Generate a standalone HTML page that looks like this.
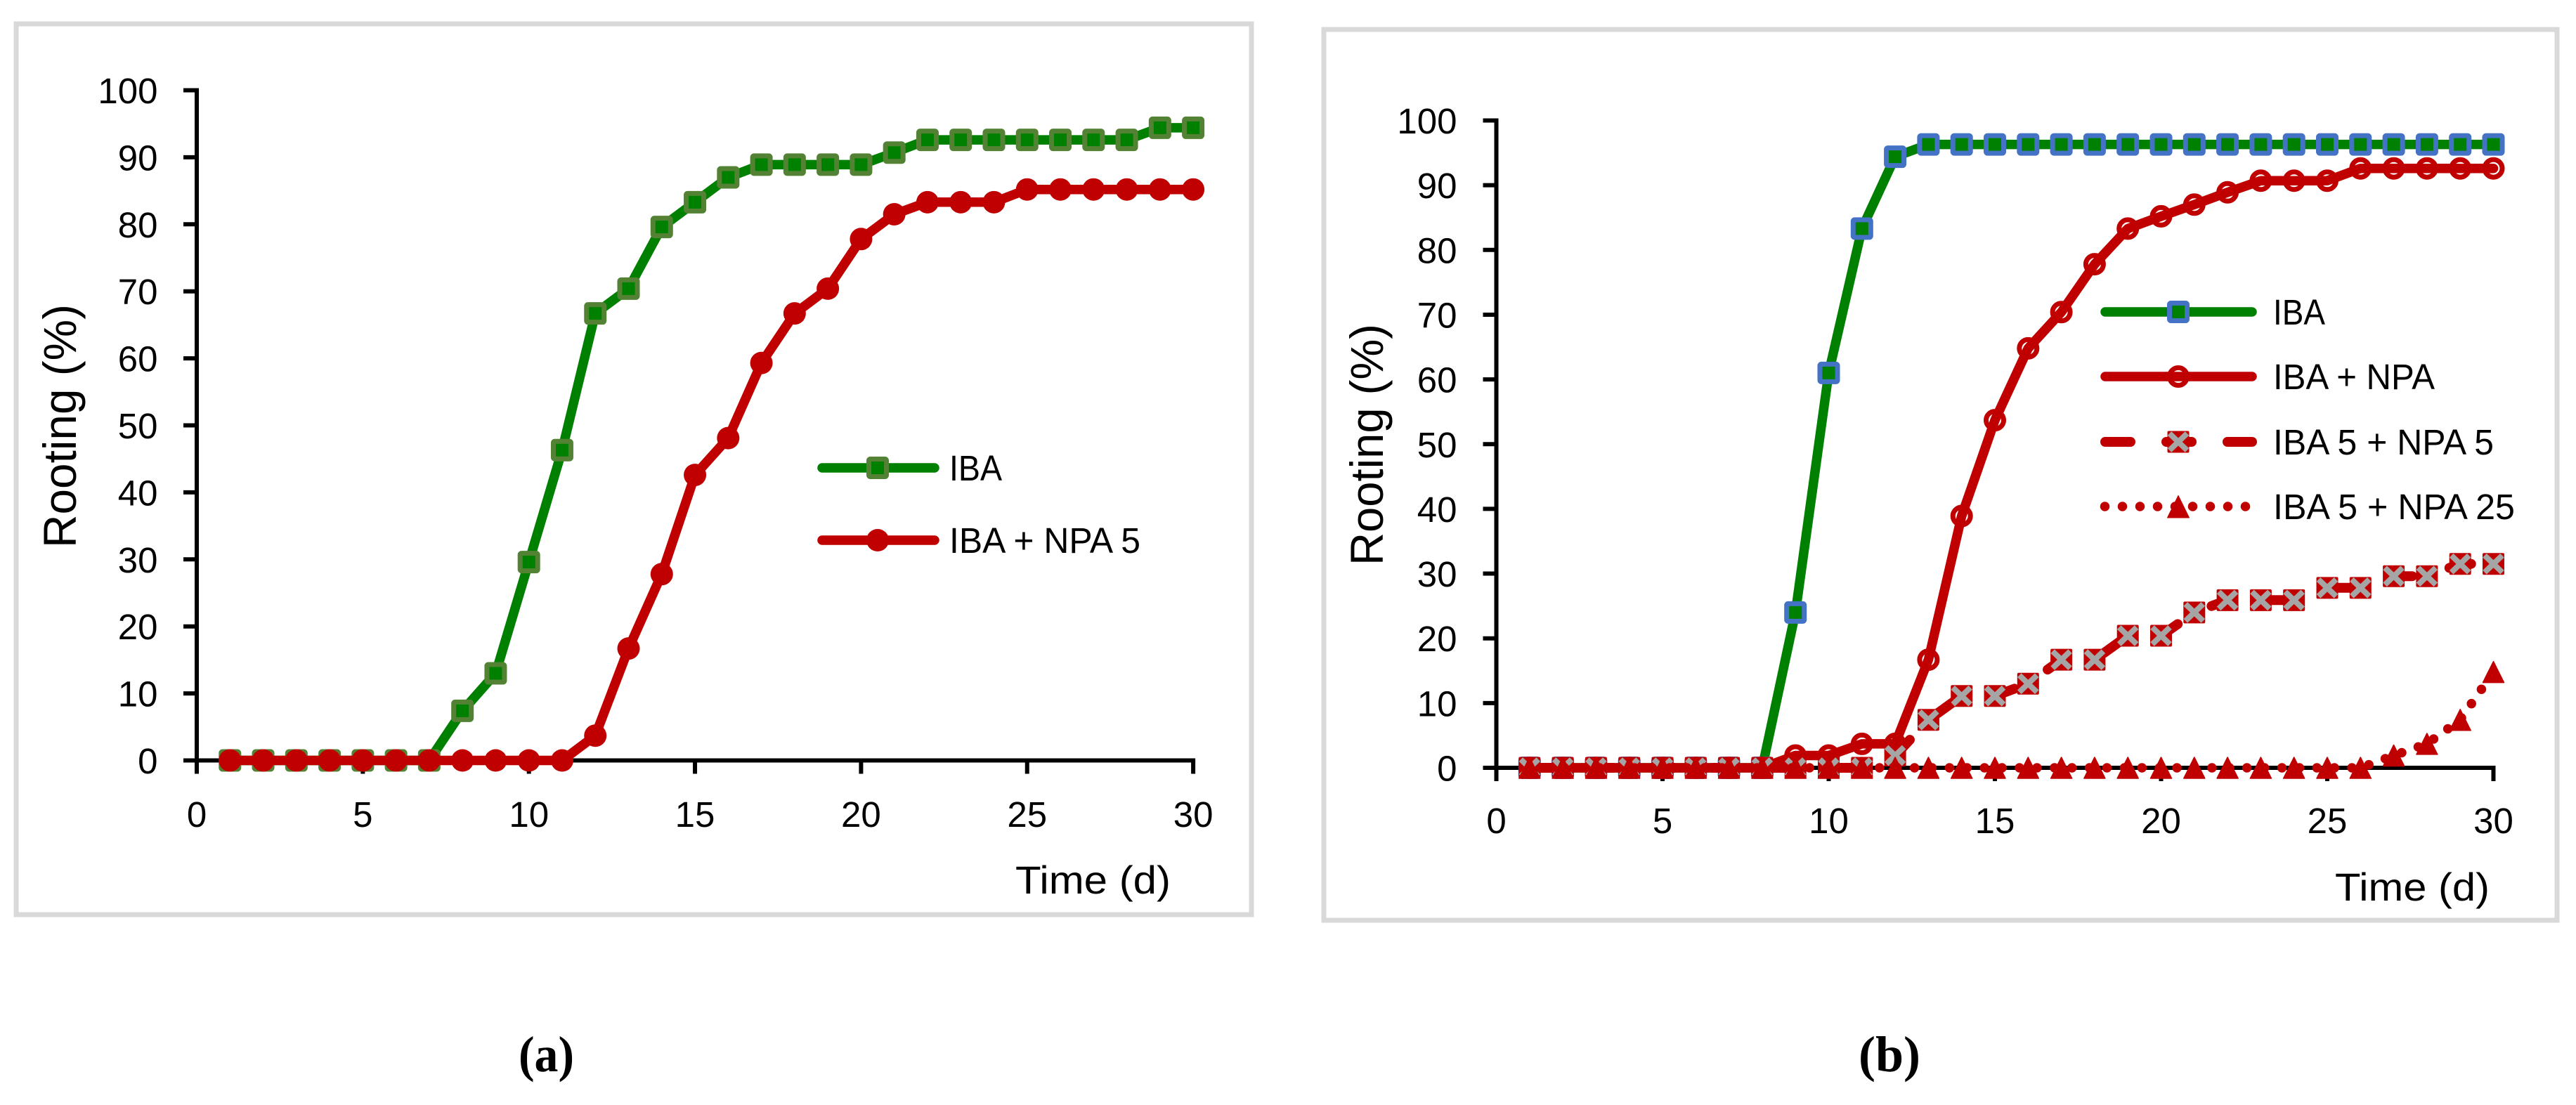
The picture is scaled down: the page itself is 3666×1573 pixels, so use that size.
<!DOCTYPE html>
<html>
<head>
<meta charset="utf-8">
<title>Rooting over time</title>
<style>
html,body{margin:0;padding:0;background:#fff;width:3666px;height:1573px;overflow:hidden}
svg{display:block}
text{font-family:"Liberation Sans",sans-serif;fill:#000}
.tick{font-size:51px}
.leg{font-size:51px}
.cap{font-family:"Liberation Serif",serif;font-size:72px}
</style>
</head>
<body>
<svg id="figure" xmlns="http://www.w3.org/2000/svg" width="3666" height="1573" viewBox="0 0 3666 1573">
  <rect x="0" y="0" width="3666" height="1573" fill="#ffffff"/>
  <rect x="23" y="34" width="1758" height="1268" fill="#fff" stroke="#d9d9d9" stroke-width="7"/>
  <rect x="1884" y="42" width="1755" height="1268" fill="#fff" stroke="#d9d9d9" stroke-width="7"/>
  <g id="chart-a"></g>
  <g id="chart-b"></g>

  <text transform="translate(108,780) rotate(-90)" font-size="66" textLength="347" lengthAdjust="spacingAndGlyphs">Rooting (%)</text>
  <text x="1445" y="1272" font-size="56" textLength="221" lengthAdjust="spacingAndGlyphs">Time (d)</text>
  <text transform="translate(1968,805) rotate(-90)" font-size="66" textLength="344" lengthAdjust="spacingAndGlyphs">Rooting (%)</text>
  <text x="3323" y="1282" font-size="56" textLength="220" lengthAdjust="spacingAndGlyphs">Time (d)</text>

  <g>
    <g>
      <line x1="1170" y1="666" x2="1330" y2="666" stroke="#008000" stroke-width="13.5" stroke-linecap="round"/>
      <rect x="1236.5" y="653.5" width="25" height="25" rx="2" fill="#008000" stroke="#548235" stroke-width="7"/>
      <text class="leg" x="1351" y="684" textLength="75" lengthAdjust="spacingAndGlyphs">IBA</text>
    </g>
    <g>
      <line x1="1170" y1="769" x2="1330" y2="769" stroke="#c00000" stroke-width="13.5" stroke-linecap="round"/>
      <circle cx="1249" cy="769" r="16" fill="#c00000"/>
      <text class="leg" x="1351" y="787" textLength="272" lengthAdjust="spacingAndGlyphs">IBA + NPA 5</text>
    </g>
  </g>

  <g>
    <g>
      <line x1="2996" y1="444" x2="3205" y2="444" stroke="#008000" stroke-width="13.5" stroke-linecap="round"/>
      <rect x="3087.5" y="431.5" width="25" height="25" rx="2" fill="#008000" stroke="#4472c4" stroke-width="7"/>
      <text class="leg" x="3235" y="462" textLength="74" lengthAdjust="spacingAndGlyphs">IBA</text>
    </g>
    <g>
      <line x1="2996" y1="536" x2="3205" y2="536" stroke="#c00000" stroke-width="13.5" stroke-linecap="round"/>
      <circle cx="3100" cy="536" r="12.5" fill="none" stroke="#c00000" stroke-width="7"/>
      <text class="leg" x="3235" y="554" textLength="230" lengthAdjust="spacingAndGlyphs">IBA + NPA</text>
    </g>
    <g>
      <line x1="2996" y1="629" x2="3205" y2="629" stroke="#c00000" stroke-width="14" stroke-linecap="round" stroke-dasharray="36 51"/>
      <rect x="3084.500" y="613.500" width="31" height="31" rx="2" fill="#c00000"/>
      <path d="M3087.500 617L3112.500 641M3112.500 617L3087.500 641" stroke="#a5a5a5" stroke-width="8" fill="none"/>
      <text class="leg" x="3235" y="647" textLength="314" lengthAdjust="spacingAndGlyphs">IBA 5 + NPA 5</text>
    </g>
    <g>
      <line x1="2995.5" y1="721" x2="3205" y2="721" stroke="#c00000" stroke-width="13.5" stroke-linecap="round" stroke-dasharray="0 25"/>
      <path d="M3100 705.500L3115.500 737L3084.500 737Z" fill="#c00000" stroke="#c00000" stroke-width="1" stroke-linejoin="round"/>
      <text class="leg" x="3235" y="739" textLength="344" lengthAdjust="spacingAndGlyphs">IBA 5 + NPA 25</text>
    </g>
  </g>

  <text class="cap" x="738" y="1525" font-weight="bold" textLength="79" lengthAdjust="spacingAndGlyphs">(a)</text>
  <text class="cap" x="2645" y="1525" font-weight="bold" textLength="88" lengthAdjust="spacingAndGlyphs">(b)</text>
</svg>

<script>
// Shared axis data
const xTickLabels = [0, 5, 10, 15, 20, 25, 30];
const yTickLabels = [0, 10, 20, 30, 40, 50, 60, 70, 80, 90, 100];
const days = [1,2,3,4,5,6,7,8,9,10,11,12,13,14,15,16,17,18,19,20,21,22,23,24,25,26,27,28,29,30];

// Panel (a) values
const aIba = [0,0,0,0,0,0,0,7.4,13,29.6,46.3,66.7,70.4,79.6,83.3,87,88.9,88.9,88.9,88.9,90.7,92.6,92.6,92.6,92.6,92.6,92.6,92.6,94.4,94.4];
const aIbaNpa5 = [0,0,0,0,0,0,0,0,0,0,0,3.7,16.7,27.8,42.6,48.1,59.3,66.7,70.4,77.8,81.5,83.3,83.3,83.3,85.2,85.2,85.2,85.2,85.2,85.2];

// Panel (b) values
const bIba = [0,0,0,0,0,0,0,0,24,61,83.3,94.4,96.3,96.3,96.3,96.3,96.3,96.3,96.3,96.3,96.3,96.3,96.3,96.3,96.3,96.3,96.3,96.3,96.3,96.3];
const bIbaNpa = [0,0,0,0,0,0,0,0,1.9,1.9,3.7,3.7,16.7,38.9,53.7,64.8,70.4,77.8,83.3,85.2,87,88.9,90.7,90.7,90.7,92.6,92.6,92.6,92.6,92.6];
const bIba5Npa5 = [0,0,0,0,0,0,0,0,0,0,0,1.9,7.4,11.1,11.1,13,16.7,16.7,20.4,20.4,24,25.9,25.9,25.9,27.8,27.8,29.6,29.6,31.5,31.5];
const bIba5Npa25 = [0,0,0,0,0,0,0,0,0,0,0,0,0,0,0,0,0,0,0,0,0,0,0,0,0,0,1.9,3.7,7.4,14.8];

const NS = 'http://www.w3.org/2000/svg';

function make(tag, parent, attrs) {
  const el = document.createElementNS(NS, tag);
  for (const k in attrs) el.setAttribute(k, attrs[k]);
  parent.appendChild(el);
  return el;
}

function linePath(xs, ys) {
  return xs.map(function (x, i) {
    return (i === 0 ? 'M' : 'L') + x.toFixed(1) + ' ' + ys[i].toFixed(1);
  }).join('');
}

function drawAxes(root, sx, sy, xLabelBase, yLabelRight, panel) {
  const x0 = sx(0), x1 = sx(30), y0 = sy(0), y1 = sy(100);
  const tickLen = 19;

  const yAxis = make('line', root, {x1: x0, y1: y1 - 3, x2: x0, y2: y0 + tickLen, stroke: '#000', 'stroke-width': 6});
  
  

  const xAxis = make('line', root, {x1: x0 - tickLen, y1: y0, x2: x1 + 3, y2: y0, stroke: '#000', 'stroke-width': 6});
  
  

  yTickLabels.forEach(function (v) {
    const t = make('line', root, {x1: x0 - tickLen, y1: sy(v), x2: x0, y2: sy(v), stroke: '#000', 'stroke-width': 6});
    
    
    const l = make('text', root, {class: 'tick', x: yLabelRight, y: sy(v) + 18.5, 'text-anchor': 'end'});
    
    
    l.textContent = v;
  });

  xTickLabels.forEach(function (v) {
    const t = make('line', root, {x1: sx(v), y1: y0, x2: sx(v), y2: y0 + tickLen, stroke: '#000', 'stroke-width': 6});
    
    
    const l = make('text', root, {class: 'tick', x: sx(v), y: xLabelBase, 'text-anchor': 'middle'});
    
    
    l.textContent = v;
  });
}

function drawMarker(parent, kind, cx, cy, edge) {
  if (kind === 'square') {
    make('rect', parent, {x: cx - 12.5, y: cy - 12.5, width: 25, height: 25, rx: 2, fill: '#008000', stroke: edge, 'stroke-width': 7});
  } else if (kind === 'disc') {
    make('circle', parent, {cx: cx, cy: cy, r: 16, fill: '#c00000'});
  } else if (kind === 'ring') {
    make('circle', parent, {cx: cx, cy: cy, r: 12.5, fill: 'none', stroke: '#c00000', 'stroke-width': 7});
  } else if (kind === 'cross') {
    make('rect', parent, {x: cx - 15.5, y: cy - 15.5, width: 31, height: 31, rx: 2, fill: '#c00000'});
    make('path', parent, {d: 'M' + (cx - 12.5) + ' ' + (cy - 12) + 'L' + (cx + 12.5) + ' ' + (cy + 12) + 'M' + (cx + 12.5) + ' ' + (cy - 12) + 'L' + (cx - 12.5) + ' ' + (cy + 12), stroke: '#a5a5a5', 'stroke-width': 8, fill: 'none'});
  } else if (kind === 'triangle') {
    make('path', parent, {d: 'M' + cx + ' ' + (cy - 15) + 'L' + (cx + 15) + ' ' + (cy + 15) + 'L' + (cx - 15) + ' ' + (cy + 15) + 'Z', fill: '#c00000', stroke: '#c00000', 'stroke-width': 1.5, 'stroke-linejoin': 'round'});
  }
}

function drawSeries(root, sx, sy, values, opt) {
  const group = make('g', root, {});
  
  
  const xs = days.map(sx), ys = values.map(sy);
  const attrs = {d: linePath(xs, ys), fill: 'none', stroke: opt.color, 'stroke-width': opt.width, 'stroke-linecap': 'round', 'stroke-linejoin': 'round'};
  if (opt.dash) attrs['stroke-dasharray'] = opt.dash;
  const line = make('path', group, attrs);
  
  
  days.forEach(function (d, i) {
    const m = make('g', group, {});
    
    
    drawMarker(m, opt.marker, xs[i], ys[i], opt.edge);
  });
}

// Panel (a)
const chartA = document.getElementById('chart-a');
const sxA = function (v) { return 280 + v * 47.27; };
const syA = function (v) { return 1082.5 - v * 9.54; };
drawAxes(chartA, sxA, syA, 1177, 224.5, 'panel-a');
drawSeries(chartA, sxA, syA, aIba, {name: 'series-a-iba', color: '#008000', width: 13.5, marker: 'square', edge: '#548235'});
drawSeries(chartA, sxA, syA, aIbaNpa5, {name: 'series-a-iba-npa-5', color: '#c00000', width: 13.5, marker: 'disc'});

// Panel (b)
const chartB = document.getElementById('chart-b');
const sxB = function (v) { return 2129.5 + v * 47.3; };
const syB = function (v) { return 1093 - v * 9.215; };
drawAxes(chartB, sxB, syB, 1186, 2073.5, 'panel-b');
drawSeries(chartB, sxB, syB, bIba, {name: 'series-b-iba', color: '#008000', width: 13.5, marker: 'square', edge: '#4472c4'});
drawSeries(chartB, sxB, syB, bIbaNpa, {name: 'series-b-iba-npa', color: '#c00000', width: 13.5, marker: 'ring'});
drawSeries(chartB, sxB, syB, bIba5Npa5, {name: 'series-b-iba-5-npa-5', color: '#c00000', width: 14, marker: 'cross', dash: '32 55'});
drawSeries(chartB, sxB, syB, bIba5Npa25, {name: 'series-b-iba-5-npa-25', color: '#c00000', width: 13.5, marker: 'triangle', dash: '0 24.9'});
</script>
</body>
</html>
